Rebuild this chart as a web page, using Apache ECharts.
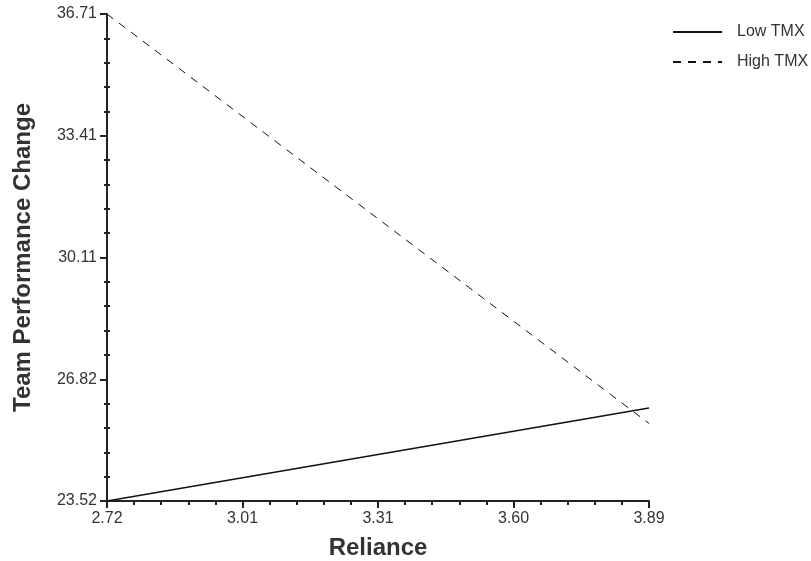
<!DOCTYPE html>
<html><head><meta charset="utf-8">
<script src="https://cdn.jsdelivr.net/npm/echarts@6/dist/echarts.min.js"></script>
<style>html,body{margin:0;padding:0;background:#fff}#c{width:811px;height:561px}</style>
</head><body><div id="c"></div>
<script>
const xTickLabels = ['2.72','3.01','3.31','3.60','3.89'];
const yTickLabels = ['23.52','26.82','30.11','33.41','36.71'];
const xMin = 2.72, xMax = 3.89;
const yMin = 23.52, yMax = 36.71;
const reliance = [2.72, 3.89];
const lowTMX = [23.52, 26.04];
const highTMX = [36.71, 25.62];

const xStep = (xMax - xMin) / 4;
const yStep = (yMax - yMin) / 4;
const toPts = (ys) => reliance.map((x, i) => [(x - xMin) / xStep, (ys[i] - yMin) / yStep]);

const font = 'Liberation Sans, Arial, sans-serif';
const axisColor = '#222';
const chart = echarts.init(document.getElementById('c'));
const baseY = {
  type: 'value', min: 0, max: 4, interval: 1,
  splitLine: { show: false },
};
chart.setOption({
  animation: false,
  grid: { left: 107, right: 162, top: 14, bottom: 60, containLabel: false, outerBoundsMode: 'none' },
  legend: {
    orient: 'vertical', left: 667, top: 19, itemWidth: 49, itemHeight: 14, itemGap: 14,
    itemStyle: { opacity: 0 },
    textStyle: { fontFamily: font, fontSize: 16, lineHeight: 16, color: '#333', padding: [0,0,0,10] },
    data: ['Low TMX', 'High TMX']
  },
  xAxis: [{
    type: 'value', min: 0, max: 4, interval: 1,
    name: 'Reliance', nameLocation: 'middle', nameGap: 35,
    nameTextStyle: { fontFamily: font, fontSize: 24, fontWeight: 'bold', color: '#333' },
    axisLine: { lineStyle: { color: axisColor, width: 2 } },
    axisTick: { show: true, length: 7, lineStyle: { color: axisColor, width: 2 } },
    minorTick: { show: true, splitNumber: 5, length: 4, lineStyle: { color: axisColor, width: 2 } },
    axisLabel: { fontFamily: font, fontSize: 16, color: '#333', margin: 10,
      formatter: (v) => xTickLabels[Math.round(v)] },
    splitLine: { show: false }, minorSplitLine: { show: false }
  }],
  yAxis: [Object.assign({}, baseY, {
    name: 'Team Performance Change', nameLocation: 'middle', nameGap: 72,
    nameTextStyle: { fontFamily: font, fontSize: 24, fontWeight: 'bold', color: '#333' },
    axisLine: { lineStyle: { color: axisColor, width: 2 } },
    axisTick: { show: true, length: 7, lineStyle: { color: axisColor, width: 2 } },
    minorTick: { show: true, splitNumber: 5, length: 3, lineStyle: { color: axisColor, width: 2 } },
    axisLabel: { fontFamily: font, fontSize: 16, color: '#333', margin: 10,
      formatter: (v) => yTickLabels[Math.round(v)] },
    minorSplitLine: { show: false }
  }), Object.assign({}, baseY, {
    position: 'left',
    axisLine: { show: false },
    axisTick: { show: false, inside: true },
    minorTick: { show: true, splitNumber: 5, length: 3, lineStyle: { color: axisColor, width: 2 } },
    axisLabel: { show: false, inside: true },
    axisPointer: { show: false },
    minorSplitLine: { show: false }
  })],
  series: [
    { name: 'Low TMX', type: 'line', data: toPts(lowTMX), showSymbol: false, symbol: 'none',
      lineStyle: { color: '#111', width: 1.5, type: 'solid' }, itemStyle: { color: '#111' } },
    { name: 'High TMX', type: 'line', data: toPts(highTMX), showSymbol: false, symbol: 'none',
      lineStyle: { color: '#111', width: 1, type: [8, 7] }, itemStyle: { color: '#111' } }
  ]
});
</script></body></html>
